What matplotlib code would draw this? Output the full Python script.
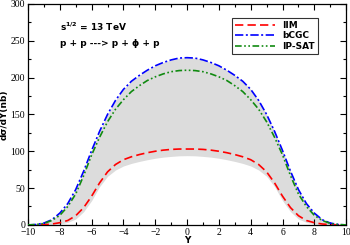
import numpy as np
import matplotlib
matplotlib.use('Agg')
import matplotlib.pyplot as plt
from matplotlib.ticker import MultipleLocator

# rapidez (metade positiva, curvas simetricas)
y_half = [0, 0.5, 1, 1.5, 2, 2.5, 3, 3.5, 4, 4.5, 5, 5.5, 6, 6.5, 7, 7.5, 8, 8.5, 9, 9.5, 10]

iim_half = [103, 103, 102.5, 101.5, 100, 98, 95.5, 92.5, 88.5, 82, 72, 57, 39, 23.5, 12.5, 6, 3, 1.2, 0.4, 0.1, 0]
bcgc_half = [227, 226.5, 224, 220.5, 216, 210, 203, 195, 184, 169, 150, 127, 101, 73, 48, 29, 16, 7, 2.5, 0.5, 0]
ipsat_half = [210, 209.5, 208, 205, 201, 196, 189, 181, 170, 157, 140, 119, 95, 67, 42, 25, 13, 6, 2, 0.5, 0]
band_low_half = [94, 93.8, 93, 92, 90.5, 88.5, 86.2, 83.5, 80, 74.5, 66, 52, 33, 18, 8, 3.5, 1.2, 0.3, 0, 0, 0]


def espelhar(vals):
    """Completa a curva para Y negativo"""
    return np.concatenate([vals[:0:-1], vals])


Y = np.concatenate([-np.array(y_half[:0:-1]), y_half])
iim = espelhar(np.array(iim_half, dtype=float))
bcgc = espelhar(np.array(bcgc_half, dtype=float))
ipsat = espelhar(np.array(ipsat_half, dtype=float))
band_low = espelhar(np.array(band_low_half, dtype=float))

fig = plt.figure(figsize=(3.5, 2.45), dpi=100)
ax = fig.add_axes([0.08, 0.082, 0.909, 0.902])

# faixa cinza entre limite inferior e bCGC
ax.fill_between(Y, band_low, bcgc, color='#dcdcdc', lw=0, zorder=1)

ax.plot(Y, iim, color='#ff0000', lw=1.2, dashes=(5, 2.5), label='IIM', zorder=3)
ax.plot(Y, bcgc, color='#0000ff', lw=1.2, dashes=(5, 1.5, 1.2, 1.5), label='bCGC', zorder=3)
ax.plot(Y, ipsat, color='#108a10', lw=1.2, dashes=(4, 1.5, 1, 1.5, 1, 1.5), label='IP-SAT', zorder=3)

ax.set_xlim(-10, 10)
ax.set_ylim(0, 300)
ax.xaxis.set_major_locator(MultipleLocator(2))
ax.xaxis.set_minor_locator(MultipleLocator(1))
ax.yaxis.set_major_locator(MultipleLocator(50))
ax.yaxis.set_minor_locator(MultipleLocator(25))
ax.tick_params(which='both', direction='in', top=True, right=True, width=0.8)
ax.tick_params(which='major', length=4, labelsize=7, pad=2)
ax.tick_params(which='minor', length=2.5)
for lab in ax.get_xticklabels() + ax.get_yticklabels():
    lab.set_family('Liberation Serif')
for s in ax.spines.values():
    s.set_linewidth(0.9)

ax.set_xlabel('Y', fontsize=6.5, fontweight='bold')
ax.set_ylabel('d\u03c3/dY(nb)', fontsize=6.5, fontweight='bold')
ax.xaxis.set_label_coords(0.5, -0.07)
ax.yaxis.set_label_coords(-0.074, 0.5)
ax.xaxis.label.set_va('center')
ax.yaxis.label.set_va('center')

ax.text(0.1, 0.895, r'$\mathbf{s^{1/2}}$ = 13 TeV', transform=ax.transAxes,
        fontsize=6.5, fontweight='bold', va='center')
ax.text(0.1, 0.822, 'p + p ---> p + \u03d5 + p', transform=ax.transAxes,
        fontsize=6.5, fontweight='bold', va='center')

leg = ax.legend(loc='upper right', bbox_to_anchor=(0.925, 0.955),
                prop={'weight': 'bold', 'size': 6.5}, frameon=True, fancybox=False,
                edgecolor='black', handlelength=4.5, handletextpad=0.8,
                borderpad=0.3, labelspacing=0.15)
leg.get_frame().set_linewidth(0.8)

plt.savefig('out.png', dpi=100)
